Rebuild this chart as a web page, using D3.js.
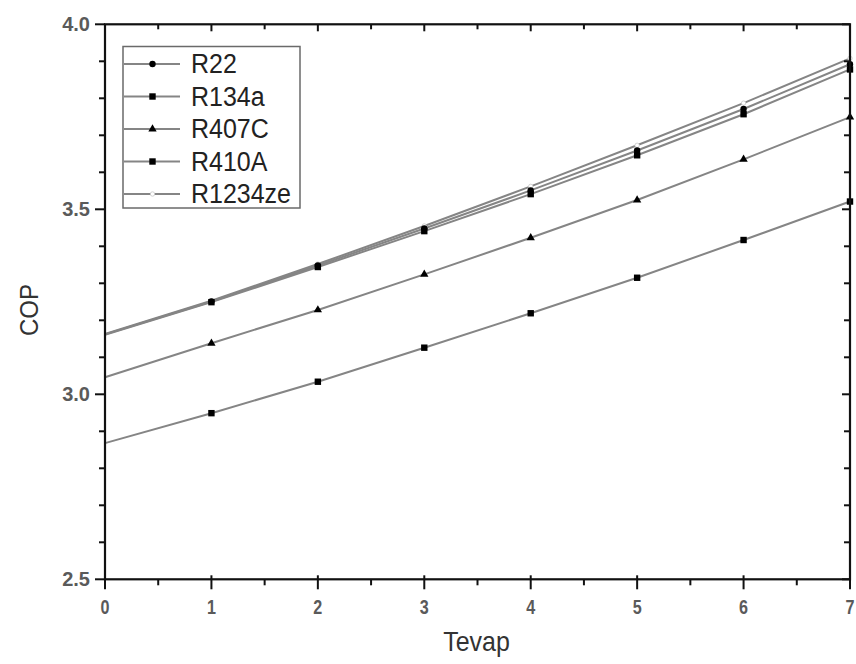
<!DOCTYPE html>
<html>
<head>
<meta charset="utf-8">
<script src="https://cdn.jsdelivr.net/npm/d3@7/dist/d3.min.js"></script>
<style>
  html, body { margin: 0; padding: 0; background: #fff; }
  svg { display: block; }
</style>
</head>
<body>
<svg id="chart" width="856" height="664"></svg>
<script>
// ---- data ----
const tevap = [0, 1, 2, 3, 4, 5, 6, 7];
const seriesNames = ["R22", "R134a", "R407C", "R410A", "R1234ze"];
const copR22     = [3.162, 3.251, 3.348, 3.448, 3.551, 3.659, 3.771, 3.892];
const copR134a   = [3.161, 3.249, 3.344, 3.441, 3.541, 3.646, 3.757, 3.878];
const copR407C   = [3.046, 3.138, 3.228, 3.324, 3.423, 3.525, 3.635, 3.749];
const copR410A   = [2.868, 2.949, 3.034, 3.126, 3.219, 3.315, 3.417, 3.521];
const copR1234ze = [3.163, 3.253, 3.352, 3.455, 3.562, 3.673, 3.787, 3.908];
const markerTypes = ["circle", "square", "triangle", "square", "open"];
const xTickLabels = [0, 1, 2, 3, 4, 5, 6, 7];
const yTickLabels = [2.5, 3.0, 3.5, 4.0];
const xTitle = "Tevap";
const yTitle = "COP";

const seriesValues = [copR22, copR134a, copR407C, copR410A, copR1234ze];

(function () {
// ---- layout ----
const pL = 105, pR = 850, pT = 24.3, pB = 579.3;
const svg = d3.select("#chart");
const x = d3.scaleLinear().domain([0, 7]).range([pL, pR]);
const y = d3.scaleLinear().domain([2.5, 4.0]).range([pB, pT]);

const lineColor = "#858585";
const tickColor = "#111";
const labelColor = "#5a5a5a";
const font = "Liberation Sans, Arial, sans-serif";

// ---- lines ----
const line = d3.line().x((d, i) => x(tevap[i])).y(d => y(d));
const drawOrder = [3, 2, 4, 0, 1];
drawOrder.forEach(k => {
  svg.append("path")
    .datum(seriesValues[k])
    .attr("d", line)
    .attr("fill", "none")
    .attr("stroke", lineColor)
    .attr("stroke-width", 2);
});

function drawMarker(g, type, cx, cy) {
  if (type === "circle") {
    g.append("circle").attr("cx", cx).attr("cy", cy).attr("r", 3.2).attr("fill", "#000");
  } else if (type === "square") {
    g.append("rect").attr("x", cx - 3.2).attr("y", cy - 3.2).attr("width", 6.4).attr("height", 6.4).attr("fill", "#000");
  } else if (type === "triangle") {
    g.append("path").attr("d", d3.symbol(d3.symbolTriangle, 30)()).attr("transform", `translate(${cx},${cy})`).attr("fill", "#000");
  } else {
    g.append("circle").attr("cx", cx).attr("cy", cy).attr("r", 2.2).attr("fill", "#fff").attr("stroke", "#c8c8c8").attr("stroke-width", 0.8);
  }
}

const markG = svg.append("g");
drawOrder.forEach(k => {
  seriesValues[k].forEach((v, i) => {
    if (i === 0) return;
    drawMarker(markG, markerTypes[k], x(tevap[i]), y(v));
  });
});

// ---- axes ----
const axG = svg.append("g");
const xTicks = d3.range(0, 7.01, 0.5);
xTicks.forEach(v => {
  const major = Math.abs(v - Math.round(v)) < 1e-6;
  axG.append("line").attr("x1", x(v)).attr("x2", x(v))
    .attr("y1", pB - (major ? 4 : 0)).attr("y2", pB + (major ? 10 : 6))
    .attr("stroke", tickColor).attr("stroke-width", 2);
  axG.append("line").attr("x1", x(v)).attr("x2", x(v))
    .attr("y1", pT).attr("y2", pT + (major ? 7 : 5))
    .attr("stroke", tickColor).attr("stroke-width", 2);
});
xTickLabels.forEach(v => {
  axG.append("text")
    .attr("transform", `translate(${x(v)},${pB + 35}) scale(0.95,1.2)`)
    .attr("text-anchor", "middle")
    .attr("font-family", font)
    .attr("font-size", 17).attr("font-weight", "bold")
    .attr("fill", labelColor).text(v);
});
d3.range(2.5, 4.001, 0.1).forEach(v => {
  const major = Math.abs(v * 2 - Math.round(v * 2)) < 1e-6;
  axG.append("line").attr("x1", pL - (major ? 10 : 6)).attr("x2", pL)
    .attr("y1", y(v)).attr("y2", y(v))
    .attr("stroke", tickColor).attr("stroke-width", 2);
  axG.append("line").attr("x1", pR - (major ? 8 : 6)).attr("x2", pR)
    .attr("y1", y(v)).attr("y2", y(v))
    .attr("stroke", tickColor).attr("stroke-width", 2);
});
yTickLabels.forEach(v => {
  axG.append("text").attr("x", pL - 15).attr("y", y(v) + 7)
    .attr("text-anchor", "end")
    .attr("font-family", font)
    .attr("font-size", 20).attr("font-weight", "bold")
    .attr("fill", labelColor).text(d3.format(".1f")(v));
});
axG.append("rect").attr("x", pL).attr("y", pT).attr("width", pR - pL).attr("height", pB - pT)
  .attr("fill", "none").attr("stroke", tickColor).attr("stroke-width", 2.2);

// titles
svg.append("text").attr("transform", `translate(${(pL + pR) / 2 - 1},651) scale(1,1.1)`)
  .attr("text-anchor", "middle")
  .attr("font-family", font)
  .attr("font-size", 25).attr("fill", "#333").text(xTitle);
svg.append("text").attr("transform", `translate(38,310) rotate(-90) scale(1,1.1)`)
  .attr("text-anchor", "middle")
  .attr("font-family", font)
  .attr("font-size", 24).attr("fill", "#333").text(yTitle);

// ---- legend ----
const lg = svg.append("g");
lg.append("rect").attr("x", 123).attr("y", 46.5).attr("width", 177).attr("height", 161.5)
  .attr("fill", "#fff").attr("stroke", "#6a6a6a").attr("stroke-width", 1.5);
seriesNames.forEach((name, k) => {
  const ry = 64 + k * 32.5;
  lg.append("line").attr("x1", 124).attr("x2", 180).attr("y1", ry).attr("y2", ry)
    .attr("stroke", lineColor).attr("stroke-width", 2);
  drawMarker(lg, markerTypes[k], 152.5, ry);
  lg.append("text").attr("transform", `translate(191,${ry + 9}) scale(1,1.08)`)
    .attr("font-family", font)
    .attr("font-size", 25).attr("fill", "#222").text(name);
});
})();
</script>
</body>
</html>
